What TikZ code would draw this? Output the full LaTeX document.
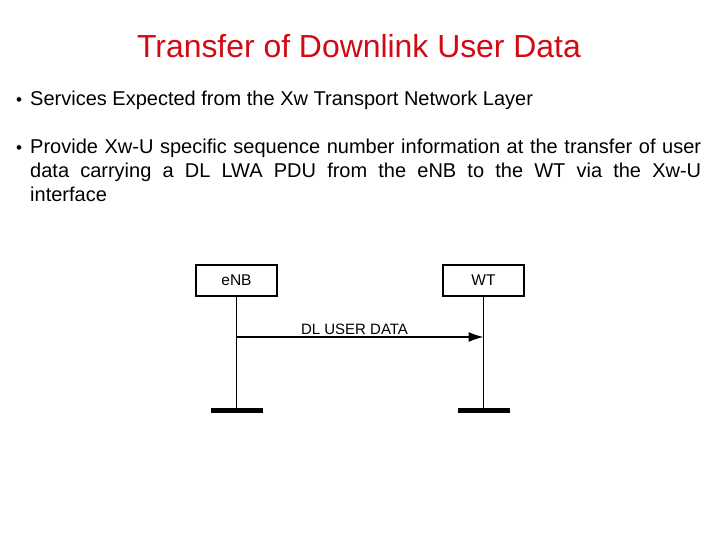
\documentclass[tikz,border=0pt]{standalone}
\usepackage{fontspec}
\setmainfont{Liberation Sans}
\usetikzlibrary{arrows.meta}
\definecolor{titlered}{RGB}{210,10,20}
\begin{document}
\begin{tikzpicture}[x=1pt,y=-1pt,
  txt/.style={inner sep=0pt,anchor=base west,font=\fontsize{20}{24}\selectfont},
  ent/.style={draw,line width=1.2pt,minimum width=81pt,minimum height=31pt,inner sep=0pt,font=\fontsize{15.5}{17}\selectfont},
  life/.style={line width=1.5pt},
  bar/.style={line width=5.5pt}]
\useasboundingbox (0,0) rectangle (720,540);
\node[inner sep=0pt,anchor=base,text=titlered,font=\fontsize{31.9}{36}\selectfont] (title) at (359,58) {Transfer of Downlink User Data};
\node[txt,font=\fontsize{17}{20}\selectfont] (b1) at (16,106) {\textbullet};
\node[txt] (l1) at (30,106) {Services Expected from the Xw Transport Network Layer};
\node[txt,font=\fontsize{17}{20}\selectfont] (b2) at (16,154) {\textbullet};
\node[txt] (l2a) at (30,154) {\makebox[671pt][s]{Provide Xw-U specific sequence number information at the transfer of user}};
\node[txt] (l2b) at (30,178) {\makebox[671pt][s]{data carrying a DL LWA PDU from the eNB to the WT via the Xw-U}};
\node[txt] (l2c) at (30,202) {interface};
\node[ent] (enb) at (236.5,280.5) {eNB};
\node[ent] (wt) at (483.5,280.5) {WT};
\coordinate (enbend) at (236.5,410.5);
\coordinate (wtend) at (483.5,410.5);
\draw[life] (enb.south) -- (enbend);
\draw[life] (wt.south) -- (wtend);
\draw[bar] (210.5,410.5) -- (263,410.5);
\draw[bar] (457.5,410.5) -- (510,410.5);
\coordinate (a1) at (236.5,337);
\coordinate (a2) at (483.5,337);
\draw[line width=1.2pt,-{Latex[length=15pt,width=10pt]}] (a1) -- (a2);
\node[inner sep=0pt,anchor=base,font=\fontsize{15}{17}\selectfont] (lbl) at (354.5,334) {DL USER DATA};
\end{tikzpicture}
\end{document}
